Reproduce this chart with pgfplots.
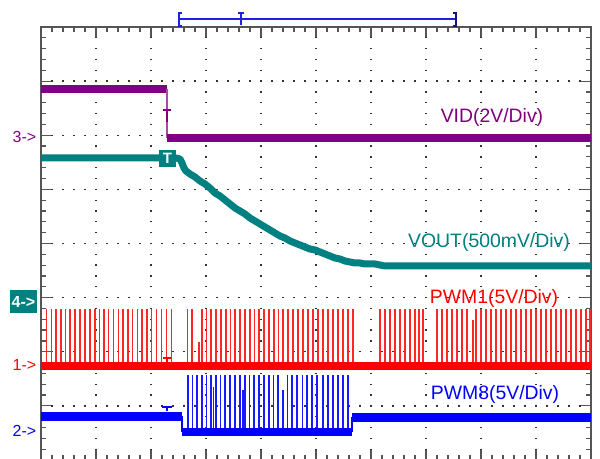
\documentclass[border=0pt]{standalone}
\usepackage{fontspec}
\setmainfont{Liberation Sans}
\usepackage{pgfplots}
\usepackage{pgfplotstable}
\pgfplotsset{compat=1.18}
\definecolor{vidc}{HTML}{800080}
\definecolor{voutc}{HTML}{008080}
\definecolor{pwmr}{HTML}{FF0000}
\definecolor{pwmb}{HTML}{0000FF}
\definecolor{trigc}{HTML}{2020E0}
\definecolor{framec}{HTML}{555555}

% PWM1 pulses: x position, top of pulse (screen y, pixels from top)
\pgfplotstableread{
x y
46.7 309
51.5 309
56 309
61 309
65.5 309
70 309
75 309
80 309
85 309
90 309
95 309
99.5 309
104 309
108.5 309
113.5 309
118.5 309
123 309
128 309
132.5 309
137.5 309
142 309
147 309
151.5 309
156.5 309
161.5 309
166.5 309
171.5 309
187.5 309
192 309
199 342
202 309
206.5 309
211 309
216 309
221 309
226 309
230.5 309
235 309
240 309
245 309
250 309
254.5 309
259 309
264 309
269 309
274 309
278.5 309
283 309
288 309
293 309
298 309
303 309
308 309
313 309
318 309
323 309
328 309
333 309
338 309
343 309
348 309
353 309
380 309
385 309
390 309
395 309
400 309
405 309
410 309
415 309
419 309
423 309
437 309
442 309
447 309
452 309
457 309
462 309
467 309
473 320
476 309
481 309
486 309
491 309
496 309
501 309
506 309
511 309
516 309
521 309
526 309
531 309
536 309
541 309
546 309
551 309
556 309
561 309
566 309
571 309
576 309
581 309
586 309
590 309
}\pwmone

% PWM8 pulses
\pgfplotstableread{
x y
188 375
192.5 375
197 375
202 375
206.5 375
211 375
213.5 387
216 375
220.5 375
225 375
230 375
235 375
240 375
243 390
245 375
249.5 375
254 375
259 375
264 375
269 375
273.5 375
278 375
283 390
287.5 375
292 375
297 375
302.5 375
307 375
312 375
317 375
323 375
328 375
333 375
338 375
343 375
348 375
}\pwmeight

\newcommand\lab{\fontsize{19.4bp}{22bp}\selectfont}
\newcommand\mk{\fontsize{16bp}{18bp}\selectfont}

\begin{document}
\begin{tikzpicture}[x=1bp,y=1bp]
\useasboundingbox (-41,1) rectangle (559,460);
\begin{axis}[
  at={(0,0)}, anchor=south west,
  scale only axis, width=550bp, height=433bp,
  xmin=41, xmax=591, ymin=27, ymax=460, y dir=reverse,
  xtick={41,96,151,206,261,316,371,426,481,536,591},
  ytick={27,81.125,135.25,189.375,243.5,297.625,351.75,405.875,460},
  minor x tick num=4, minor y tick num=4,
  xticklabels={}, yticklabels={},
  tick align=inside, tick pos=both,
  major tick length=10bp, minor tick length=5bp,
  every tick/.style={framec, line width=1.2bp},
  axis line style={framec, line width=1.6bp},
  grid=major,
  major x grid style={black!80, line width=1.3bp, dash pattern=on 1.3bp off 9.525bp, dash phase=0.65bp},
  major y grid style={black!80, line width=1.3bp, dash pattern=on 1.3bp off 9.7bp, dash phase=0.65bp},
  clip=false,
]
% ---- VID ----
\addplot[vidc, line width=7.5bp, forget plot] coordinates {(41,89) (167,89)};
\addplot[vidc!70, line width=1.5bp, forget plot] coordinates {(167,89) (167,138)};
\addplot[vidc, line width=7.5bp, forget plot] coordinates {(167,138) (591,138)};
\addplot[vidc, line width=1.3bp, forget plot] coordinates {(163,110) (171,110)};
\addplot[vidc, line width=1.3bp, forget plot] coordinates {(167,110) (167,122)};

% ---- VOUT ----
\addplot[voutc, line width=7bp, line join=round, forget plot] coordinates {
(41,158) (176,158) (180,159) (182,163) (184,168) (186,171) (190,174) (195,177)
(200,181) (205,184) (210,188) (215,193) (220,196) (225,200) (230,204) (235,208)
(240,211) (245,214) (250,218) (255,221) (260,224) (265,227) (270,230) (275,233)
(280,236) (285,238) (290,241) (295,243) (300,245) (305,247) (310,249) (315,250)
(320,252) (325,254) (330,256) (335,258) (340,259) (345,261) (350,262) (355,263)
(360,263) (365,264) (370,264) (375,264) (380,265) (385,266) (397,266) (591,266)};

% ---- PWM1 ----
\addplot[draw=none, mark=none, forget plot,
  error bars/.cd, y dir=plus, y explicit, error mark=none,
  error bar style={draw=pwmr!85, line width=1.4bp}]
  table[x=x, y=y, y error expr={364-\thisrow{y}}] {\pwmone};
\addplot[pwmr, line width=7bp, forget plot] coordinates {(41,366) (591,366)};
\addplot[pwmr, line width=1.3bp, forget plot] coordinates {(163,358) (171,358)};
\addplot[pwmr, line width=1.3bp, forget plot] coordinates {(167,358) (167,363)};

% ---- PWM8 ----
\addplot[draw=none, mark=none, forget plot,
  error bars/.cd, y dir=plus, y explicit, error mark=none,
  error bar style={draw=pwmb!90, line width=1.4bp}]
  table[x=x, y=y, y error expr={430-\thisrow{y}}] {\pwmeight};
\addplot[pwmb, line width=9bp, forget plot] coordinates {(41,416) (182,416)};
\addplot[pwmb, line width=1.5bp, forget plot] coordinates {(182,416) (182,432)};
\addplot[pwmb, line width=7.5bp, forget plot] coordinates {(182,432) (352,432)};
\addplot[pwmb, line width=1.5bp, forget plot] coordinates {(352,432) (352,417)};
\addplot[pwmb, line width=9bp, forget plot] coordinates {(352,417) (591,417)};
\addplot[pwmb, line width=1.3bp, forget plot] coordinates {(162,407) (172,407)};
\addplot[pwmb, line width=1.3bp, forget plot] coordinates {(167,407) (167,411)};

% ---- trigger / horizontal position bar at top ----
\addplot[trigc, line width=1.2bp, forget plot] coordinates {(179,19) (456,19)};
\addplot[trigc, line width=1.3bp, forget plot] coordinates {(182,13) (179,13) (179,26) (182,26)};
\addplot[trigc!60!black, line width=1.6bp, forget plot] coordinates {(453,13) (456,13) (456,26) (453,26)};
\addplot[trigc, line width=1.3bp, forget plot] coordinates {(238,13) (244,13)};
\addplot[trigc, line width=1.3bp, forget plot] coordinates {(241,13) (241,25)};

% ---- trigger box on VOUT ----
\fill[voutc] (axis cs:159,150) rectangle (axis cs:176,167);
\node[text=white, font=\fontsize{15bp}{16bp}\selectfont\bfseries, inner sep=0pt] at (axis cs:167.5,158.5) {T};

% ---- labels ----
\node[text=vidc, font=\lab, inner sep=0pt] at (axis cs:492,117) {VID(2V/Div)};
\node[text=voutc, font=\lab, inner sep=0pt] at (axis cs:489,242) {VOUT(500mV/Div)};
\node[text=pwmr, font=\lab, inner sep=0pt] at (axis cs:494,298) {PWM1(5V/Div)};
\node[text=pwmb, font=\lab, inner sep=0pt] at (axis cs:495,394) {PWM8(5V/Div)};

% ---- channel markers ----
\node[text=vidc, font=\mk, inner sep=0pt] at (axis cs:24.5,137) {3->};
\node[fill=voutc, text=white, font=\mk\bfseries, inner sep=0pt, minimum width=27bp, minimum height=23bp] at (axis cs:23.5,301.5) {4->};
\node[text=pwmr, font=\mk, inner sep=0pt] at (axis cs:24.5,365) {1->};
\node[text=pwmb, font=\mk, inner sep=0pt] at (axis cs:24.5,431) {2->};
\end{axis}
\end{tikzpicture}
\end{document}
